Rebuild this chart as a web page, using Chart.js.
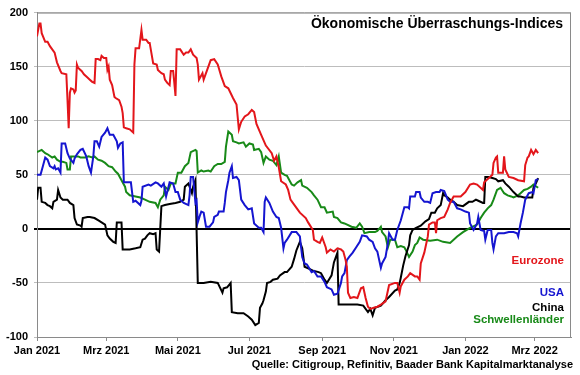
<!DOCTYPE html>
<html><head><meta charset="utf-8">
<script src="https://cdn.jsdelivr.net/npm/chart.js@4.4.0/dist/chart.umd.min.js"></script>
<style>html,body{margin:0;padding:0;background:#fff;}#wrap{width:580px;height:375px;}</style>
</head><body><div id="wrap"><canvas id="c" width="580" height="375"></canvas></div>
<script>
// Days since 1 Jan 2021 and index values
const tickDays = [0, 59, 120, 181, 243, 304, 365, 424];
const tickLabels = ['Jan 2021','Mrz 2021','Mai 2021','Jul 2021','Sep 2021','Nov 2021','Jan 2022','Mrz 2022'];
const yTicks = [-100, -50, 0, 50, 100, 150, 200];

const euroDays = [0,2,3,4,7,9,11,15,17,20,21,25,26,27,28,29,31,32,33,34,35,37,38,40,43,45,47,49,50,52,54,55,57,59,60,61,62,64,66,67,70,72,73,74,76,79,82,83,84,87,89,90,93,95,96,99,102,103,106,108,109,111,113,114,116,117,118,119,122,125,127,129,131,133,136,137,138,141,142,146,148,151,154,157,160,163,167,170,172,174,177,180,183,185,187,191,195,200,202,204,206,208,212,214,216,218,222,224,229,231,235,236,239,241,243,246,247,250,253,256,259,261,263,264,265,267,270,273,276,278,280,282,284,287,290,293,297,300,305,307,309,310,313,316,318,322,324,326,327,330,333,334,337,339,340,341,344,347,350,352,355,361,365,369,372,375,380,381,385,388,389,391,392,393,395,397,398,399,402,406,410,415,416,418,419,421,422,423,425,427];
const euroVals = [178,190,190,181,173,173,169,163,154,146,144,143,119,93,126,130,129,126,128,152,149,147,146,143,140,138,136,135,157,157,156,160,158,158,147,150,138,133,122,121,119,113,107,94,93,92,89,152,167,167,184,175,175,172,172,153,152,147,144,143,138,135,133,146,146,135,123,166,166,161,163,163,166,161,158,152,138,144,138,150,156,157,152,141,132,130,121,115,92,99,104,106,110,108,97,87,77,70,63,67,57,44,41,36,27,24,18,15,10,6,-1,-10,-12,-13,-8,-17,-22,-19,-21,-18,-19,-21,-29,-35,-59,-64,-63,-64,-55,-54,-64,-72,-74,-73,-72,-70,-67,-52,-50,-50,-59,-53,-47,-44,-41,-44,-44,-47,-32,-22,-7,4,6,6,-4,8,10,11,18,24,30,30,34,41,42,41,36,43,47,50,61,66,67,52,52,52,67,55,48,47,45,44,59,66,67,73,71,69,73,70];

const usaDays = [0,3,5,7,9,11,14,15,16,18,20,21,24,26,28,31,32,34,37,39,42,44,46,48,49,51,53,55,58,60,62,65,68,69,71,73,74,78,80,82,84,88,89,90,95,97,101,103,106,108,110,113,116,118,120,122,125,129,130,131,133,135,136,137,139,140,142,144,147,150,151,154,155,159,160,161,163,164,166,167,170,172,174,177,180,183,185,189,191,193,194,195,198,201,204,206,208,210,211,213,217,221,224,225,226,228,230,234,236,239,242,245,247,251,253,256,259,260,262,264,266,269,272,275,277,281,283,286,288,290,293,294,297,299,300,303,305,307,310,313,316,317,318,322,323,326,327,330,333,335,337,340,343,344,347,350,352,355,358,361,365,368,369,372,375,376,378,381,382,384,387,388,389,391,393,398,402,406,409,410,412,414,416,419,422,423,425,427];
const usaVals = [50,50,58,66,64,58,56,58,55,56,52,79,79,70,65,61,65,69,73,74,67,58,52,67,81,81,76,85,89,93,87,87,81,75,79,80,43,43,43,25,26,22,26,39,41,40,43,42,39,42,30,43,42,34,34,27,24,22,31,48,48,24,26,6,13,16,15,2,2,6,11,13,16,16,24,34,45,52,58,47,48,45,27,22,18,19,5,1,1,-3,25,29,24,16,11,10,1,-18,-13,-10,-3,-3,-7,-17,-26,-32,-33,-40,-39,-44,-44,-49,-54,-56,-61,-60,-50,-44,-41,-29,-26,-22,-17,-12,-6,-7,-10,-12,-18,-21,-36,-32,-26,-13,-4,-10,-10,-1,8,20,20,19,30,30,34,34,29,25,25,24,33,34,34,36,35,27,25,25,19,18,16,15,5,-1,5,11,-1,-2,-10,-1,-1,-13,-19,-7,-4,-4,-3,-3,-4,-7,5,15,27,33,34,33,45,46];

const chinaDays = [0,1,3,4,7,9,11,13,14,17,18,20,22,26,28,31,32,34,37,38,39,43,45,49,52,55,58,60,62,65,67,68,72,73,79,84,88,90,92,94,96,99,101,102,104,106,109,113,118,122,125,126,129,132,133,135,137,142,148,154,158,159,162,165,166,171,176,180,183,186,189,190,192,193,195,196,199,201,205,207,211,213,217,219,221,224,225,226,228,232,236,240,242,245,247,251,253,256,257,262,268,273,278,282,284,286,288,293,297,300,305,307,309,310,312,314,317,318,320,323,327,331,334,336,339,341,344,346,347,350,352,355,358,363,368,371,374,376,380,381,382,385,388,391,393,397,399,402,406,410,412,415,419,422,423,425,427];
const chinaVals = [27,38,38,25,24,22,21,19,25,27,36,29,27,27,24,22,10,4,3,2,10,11,11,10,8,6,4,-6,-9,-12,-13,6,6,-19,-19,-18,-17,-10,-9,-6,-4,-5,-4,-19,-21,21,22,23,24,25,27,39,42,33,39,45,-50,-50,-49,-50,-59,-55,-54,-50,-77,-78,-78,-81,-84,-89,-87,-73,-69,-66,-58,-50,-49,-47,-46,-43,-40,-40,-35,-28,-20,-12,-15,-18,-35,-37,-39,-40,-41,-47,-50,-43,-31,-22,-70,-70,-70,-70,-71,-77,-74,-80,-73,-71,-66,-63,-57,-56,-50,-45,-34,-25,-15,-6,-1,1,3,7,9,15,15,19,22,33,31,29,27,25,22,21,25,25,27,26,24,24,48,48,47,46,44,45,42,39,34,30,30,29,29,29,38,42,47];

const emDays = [0,4,7,9,13,15,17,20,22,25,26,28,29,32,35,37,41,44,47,49,52,55,58,61,64,67,69,72,75,76,79,84,88,92,96,101,103,105,108,109,112,114,118,120,123,126,129,131,135,136,137,140,142,146,148,151,154,157,160,161,163,166,167,170,172,176,178,181,184,185,189,191,193,195,198,201,204,206,208,211,213,217,219,222,225,226,230,234,236,239,242,245,247,252,253,256,259,262,268,272,275,277,279,283,288,290,293,294,297,299,301,305,307,310,313,314,317,320,322,324,326,329,335,341,346,352,358,363,369,375,378,381,384,387,389,392,395,398,401,404,406,410,412,415,418,421,423,427];
const emVals = [71,73,70,69,66,67,64,62,62,61,55,55,67,67,67,66,66,67,66,67,64,63,61,58,57,53,51,45,39,34,31,30,29,27,25,24,20,27,31,39,36,42,42,52,52,58,61,71,73,72,52,54,53,54,53,58,60,60,62,76,90,87,81,80,79,80,76,79,78,73,74,71,61,67,64,63,59,67,52,50,49,41,40,43,45,40,38,34,31,27,20,20,15,16,11,10,6,5,2,1,5,2,-4,-3,-3,-2,2,-3,-7,-17,-10,-10,-17,-16,-17,-19,-26,-21,-15,-13,-8,-10,-11,-10,-12,-13,-7,-3,1,4,10,15,19,22,27,36,38,33,31,30,29,31,33,36,37,39,41,38];

const seriesNames = ['Eurozone','USA','China','Schwellenländer'];
const seriesColors = ['#e3161b','#1515d0','#000000','#188a18'];
const chartTitle = 'Ökonomische Überraschungs-Indices';
const sourceText = 'Quelle: Citigroup, Refinitiv, Baader Bank Kapitalmarktanalyse';

const FONT = '"Liberation Sans", Arial, Helvetica, sans-serif';
const toXY = (d, v) => d.map((x, i) => ({x: x, y: v[i]}));
const seriesData = [toXY(euroDays, euroVals), toXY(usaDays, usaVals), toXY(chinaDays, chinaVals), toXY(emDays, emVals)];

const textPlugin = {
  id: 'texts',
  beforeDatasetsDraw(chart) {
    const {ctx, chartArea: a} = chart;
    ctx.save();
    ctx.strokeStyle = '#8a8a8a';
    ctx.lineWidth = 1;
    ctx.strokeRect(a.left + 0.5, a.top + 0.5, a.right - a.left - 1, a.bottom - a.top);
    ctx.restore();
  },
  afterDraw(chart) {
    const {ctx, chartArea: a} = chart;
    ctx.save();
    ctx.textAlign = 'right';
    ctx.textBaseline = 'alphabetic';
    ctx.fillStyle = '#000';
    ctx.font = 'bold 14px ' + FONT;
    ctx.fillText(chartTitle, a.right - 8, a.top + 15);
    const offs = [73, 41, 26.5, 14];
    ctx.font = 'bold 11.5px ' + FONT;
    seriesNames.forEach((n, i) => {
      ctx.fillStyle = seriesColors[i];
      ctx.fillText(n, a.right - 7, a.bottom - offs[i]);
    });
    ctx.fillStyle = '#000';
    ctx.font = 'bold 11px ' + FONT;
    ctx.fillText(sourceText, chart.width - 7, chart.height - 7);
    ctx.restore();
  }
};

new Chart(document.getElementById('c'), {
  type: 'line',
  data: {
    datasets: seriesData.map((d, i) => ({
      label: seriesNames[i], data: d, borderColor: seriesColors[i], backgroundColor: seriesColors[i],
      borderWidth: 2, pointRadius: 0, tension: 0, fill: false
    }))
  },
  options: {
    responsive: false, animation: false, devicePixelRatio: 1,
    layout: {padding: {top: 11, right: 9, left: 0, bottom: 0}},
    plugins: {legend: {display: false}, tooltip: {enabled: false}},
    scales: {
      x: {
        type: 'linear', min: 0, max: 455,
        afterBuildTicks(s) { s.ticks = tickDays.map(v => ({value: v})); },
        afterFit(s) { s.height = 38; },
        ticks: {
          autoSkip: false, maxRotation: 0, padding: 3, color: '#000',
          font: {family: FONT, size: 11, weight: 'bold'},
          callback: (v) => { const i = tickDays.indexOf(v); return i >= 0 ? tickLabels[i] : ''; }
        },
        grid: {drawOnChartArea: false, drawTicks: true, tickLength: 4, color: '#8a8a8a'},
        border: {color: '#8a8a8a'}
      },
      y: {
        min: -100, max: 200,
        afterBuildTicks(s) { s.ticks = yTicks.map(v => ({value: v})); },
        afterFit(s) { s.width = 37; },
        ticks: {padding: 6, color: '#000', font: {family: FONT, size: 11, weight: 'bold'}},
        grid: {
          color: (c) => (c.tick && c.tick.value === 0) ? '#000' : '#bdbdbd',
          lineWidth: (c) => (c.tick && c.tick.value === 0) ? 2 : 1,
          tickLength: 3
        },
        border: {color: '#8a8a8a'}
      }
    }
  },
  plugins: [textPlugin]
});
</script></body></html>
